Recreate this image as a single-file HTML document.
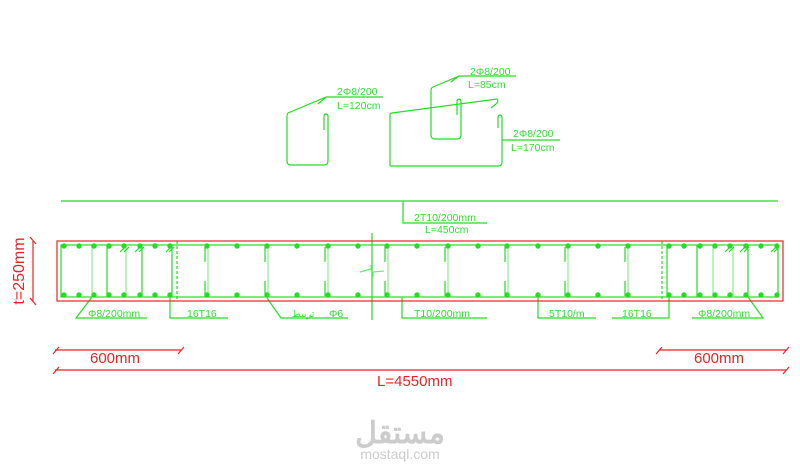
<!DOCTYPE html>
<html><head><meta charset="utf-8"><style>
html,body{margin:0;padding:0;background:#fff;width:800px;height:470px;overflow:hidden}
svg{display:block}
text{font-family:"Liberation Sans","Noto Sans CJK SC",sans-serif}
</style></head><body>
<svg width="800" height="470" viewBox="0 0 800 470" xmlns="http://www.w3.org/2000/svg">
<g fill="none" stroke="#22dd22" stroke-width="1.2">
<path d="M326,97 L288,113 Q287,114 287,116 L287,161 Q287,165 291,165 L324,165 Q328,165 328,161 L328,116 Q328,114 326,114 Q324,114 324,116 L324,130"/>
<path d="M326,97 L318,104"/>
<path d="M459,76 L433,87 Q431,88 431,90 L431,135 Q431,139 435,139 L457,139 Q461,139 461,135 L461,102 Q461,99 459,99 Q457,99 457,102 L457,115"/>
<path d="M459,76 L451,82"/>
<path d="M390,166 L390,115 Q390,113 392,113 L497,99 Q499,101 496,104 L491,108"/>
<path d="M390,166 L498,166 Q502,166 502,162 L502,118 Q502,115 500,115 Q498,115 498,118 L498,128"/>
<path d="M326,97 H383 M459,76 H516 M502,140 H560"/>
<path d="M61,201 H778 M403,201 V223 H487"/>
<rect x="61" y="245" width="717" height="52"/>
<path d="M107,245V297 M142,245V297 M172,245V297 M667,245V297 M697,245V297 M748,245V297"/>
<path d="M177,241V301 M662,241V301" stroke-dasharray="3,2"/>
<path d="M92,245V297 M126,245V297 M713,245V297 M733,245V297" stroke="#88ee88"/>
<path d="M208,247V296 M268,247V296 M328,247V296 M388,247V296 M448,247V296 M508,247V296 M568,247V296 M628,247V296" stroke="#88ee88"/>
<path d="M205,247V262 M205,281V296 M265,247V262 M265,281V296 M325,247V262 M325,281V296 M385,247V262 M385,281V296 M445,247V262 M445,281V296 M505,247V262 M505,281V296 M565,247V262 M565,281V296 M625,247V262 M625,281V296"/>
<path d="M120,252l5,-5M124,252l5,-5M135,252l5,-5M139,252l5,-5M166,252l5,-5M169,252l5,-5M725,252l5,-5M729,252l5,-5M740,252l5,-5M744,252l5,-5M771,252l5,-5M774,252l5,-5"/>
<path d="M372,233V320"/>
<path d="M360,272 L371,269 L371,265 M373,277 L373,272 L384,271" stroke="#66ee66"/>
<path d="M92,297 L76,318 H147 M170,297 V318 H228 M267,298 L281,318 H348 M402,297 V318 H487 M538,297 V318 H596 M669,297 V318 H612 M748,297 L763,318 H692"/>
</g>
<g fill="#22dd22">
<circle cx="64" cy="246" r="2.7"/><circle cx="79" cy="246" r="2.7"/><circle cx="94" cy="246" r="2.7"/><circle cx="109" cy="246" r="2.7"/><circle cx="124" cy="246" r="2.7"/><circle cx="140" cy="246" r="2.7"/><circle cx="155" cy="246" r="2.7"/><circle cx="170" cy="246" r="2.7"/><circle cx="207" cy="246" r="2.7"/><circle cx="237" cy="246" r="2.7"/><circle cx="267" cy="246" r="2.7"/><circle cx="297" cy="246" r="2.7"/><circle cx="328" cy="246" r="2.7"/><circle cx="358" cy="246" r="2.7"/><circle cx="387" cy="246" r="2.7"/><circle cx="417" cy="246" r="2.7"/><circle cx="448" cy="246" r="2.7"/><circle cx="478" cy="246" r="2.7"/><circle cx="507" cy="246" r="2.7"/><circle cx="538" cy="246" r="2.7"/><circle cx="568" cy="246" r="2.7"/><circle cx="598" cy="246" r="2.7"/><circle cx="628" cy="246" r="2.7"/><circle cx="669" cy="246" r="2.7"/><circle cx="684" cy="246" r="2.7"/><circle cx="700" cy="246" r="2.7"/><circle cx="715" cy="246" r="2.7"/><circle cx="730" cy="246" r="2.7"/><circle cx="746" cy="246" r="2.7"/><circle cx="761" cy="246" r="2.7"/><circle cx="777" cy="246" r="2.7"/>
<circle cx="64" cy="295" r="2.7"/><circle cx="79" cy="295" r="2.7"/><circle cx="94" cy="295" r="2.7"/><circle cx="109" cy="295" r="2.7"/><circle cx="124" cy="295" r="2.7"/><circle cx="140" cy="295" r="2.7"/><circle cx="155" cy="295" r="2.7"/><circle cx="170" cy="295" r="2.7"/><circle cx="207" cy="295" r="2.7"/><circle cx="237" cy="295" r="2.7"/><circle cx="267" cy="295" r="2.7"/><circle cx="297" cy="295" r="2.7"/><circle cx="328" cy="295" r="2.7"/><circle cx="358" cy="295" r="2.7"/><circle cx="387" cy="295" r="2.7"/><circle cx="417" cy="295" r="2.7"/><circle cx="448" cy="295" r="2.7"/><circle cx="478" cy="295" r="2.7"/><circle cx="507" cy="295" r="2.7"/><circle cx="538" cy="295" r="2.7"/><circle cx="568" cy="295" r="2.7"/><circle cx="598" cy="295" r="2.7"/><circle cx="628" cy="295" r="2.7"/><circle cx="669" cy="295" r="2.7"/><circle cx="684" cy="295" r="2.7"/><circle cx="700" cy="295" r="2.7"/><circle cx="715" cy="295" r="2.7"/><circle cx="730" cy="295" r="2.7"/><circle cx="746" cy="295" r="2.7"/><circle cx="761" cy="295" r="2.7"/><circle cx="777" cy="295" r="2.7"/>
</g>
<g fill="#33dd33" font-size="10.5">
<text x="337" y="95">2Φ8/200</text><text x="337" y="109">L=120cm</text>
<text x="470" y="75">2Φ8/200</text><text x="468" y="88">L=85cm</text>
<text x="513" y="137">2Φ8/200</text><text x="511" y="151">L=170cm</text>
<text x="414" y="221">2T10/200mm</text><text x="425" y="233">L=450cm</text>
<text x="88" y="317">Φ8/200mm</text><text x="187" y="317">16T16</text>
<text x="292" y="317" font-size="9.5">تربيط</text><text x="329" y="317">Φ6</text>
<text x="414" y="317">T10/200mm</text><text x="549" y="317">5T10/m</text>
<text x="622" y="317">16T16</text><text x="698" y="317">Φ8/200mm</text>
</g>
<g fill="none" stroke="#ee2222" stroke-width="1.2">
<rect x="57" y="241" width="726" height="60"/>
<path d="M55,350 H181 M55,370 H786 M659,350 H786 M33,241 V301"/>
<path d="M53,354l6,-7 M178,354l6,-7 M53,374l6,-7 M783,374l6,-7 M656,354l6,-7 M783,354l6,-7 M30,237l6,7 M30,298l6,7"/>
</g>
<g fill="#ee2222" font-size="15">
<text x="90" y="363">600mm</text>
<text x="694" y="363">600mm</text>
<text x="377" y="386">L=4550mm</text>
<text transform="translate(24,271) rotate(-90)" text-anchor="middle" font-size="16">t=250mm</text>
</g>
<g fill="#cccccc" text-anchor="middle">
<text x="400" y="443" font-size="30" font-weight="bold" font-family="'DejaVu Sans',sans-serif">مستقل</text>
<text x="400" y="459" font-size="14">mostaql.com</text>
</g>
</svg>
</body></html>
